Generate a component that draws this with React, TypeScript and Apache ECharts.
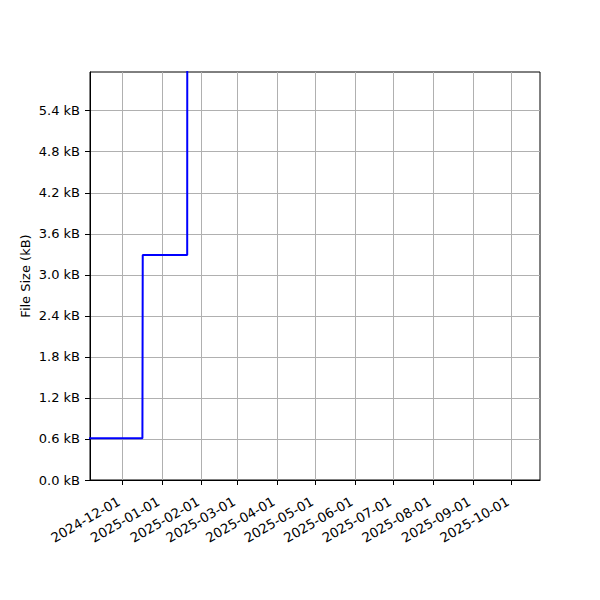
import React, { useEffect, useRef } from "react";
import * as echarts from "echarts";

const sizeDates = [
  "2024-11-01 00:00",
  "2024-12-16 18:00",
  "2024-12-17 00:00",
  "2025-01-20 18:00",
  "2025-01-21 00:00",
];
const sizeValuesKB = [0.61, 0.61, 3.29, 3.29, 20];

const monthTicks = [
  "2024-12-01",
  "2025-01-01",
  "2025-02-01",
  "2025-03-01",
  "2025-04-01",
  "2025-05-01",
  "2025-06-01",
  "2025-07-01",
  "2025-08-01",
  "2025-09-01",
  "2025-10-01",
];
const yTicks = [0, 0.6, 1.2, 1.8, 2.4, 3.0, 3.6, 4.2, 4.8, 5.4];

const xMin = "2024-11-05 19:00";
const xMax = "2025-10-23 10:00";
const yMax = 5.966;

function parseLocal(s: string): number {
  const [d, t] = s.split(" ");
  const [y, m, dd] = d.split("-").map(Number);
  const [hh, mm] = (t || "00:00").split(":").map(Number);
  return new Date(y, m - 1, dd, hh, mm).getTime();
}

function pad(n: number) {
  return n < 10 ? "0" + n : "" + n;
}

export default function App() {
  const ref = useRef<HTMLDivElement>(null);
  useEffect(() => {
    if (!ref.current) return;
    const chart = echarts.init(ref.current, undefined, { renderer: "svg" });
    const font = "DejaVu Sans";
    const tickVals = monthTicks.map((s) => parseLocal(s));
    chart.setOption({
      animation: false,
      backgroundColor: "#ffffff",
      textStyle: { fontFamily: font },
      grid: {
        left: 90,
        right: 60,
        top: 72,
        bottom: 120,
        show: true,
        borderColor: "#000000",
        borderWidth: 1,
        containLabel: false,
      },
      xAxis: {
        type: "value",
        min: parseLocal(xMin),
        max: parseLocal(xMax),
        axisLine: { show: true, onZero: false, lineStyle: { color: "#000", width: 1 } },
        axisTick: {
          show: true,
          length: 5,
          inside: false,
          customValues: tickVals,
          lineStyle: { color: "#000", width: 1 },
        },
        splitLine: { show: true, lineStyle: { color: "#b0b0b0", width: 1 } },
        axisLabel: {
          customValues: tickVals,
          rotate: 30,
          margin: 26,
          verticalAlign: "bottom",
          color: "#000",
          fontSize: 13.3,
          fontFamily: font,
          hideOverlap: false,
          formatter: (v: number) => {
            const d = new Date(v);
            return d.getFullYear() + "-" + pad(d.getMonth() + 1) + "-" + pad(d.getDate());
          },
        },
      },
      yAxis: {
        type: "value",
        min: 0,
        max: yMax,
        interval: 0.6,
        name: "File Size (kB)",
        nameLocation: "middle",
        nameGap: 58,
        nameMoveOverlap: false,
        nameTextStyle: { color: "#000", fontSize: 13, fontFamily: font },
        axisLine: { show: true, lineStyle: { color: "#000", width: 1 } },
        axisTick: {
          show: true,
          length: 5,
          customValues: yTicks,
          lineStyle: { color: "#000", width: 1 },
        },
        splitLine: { show: true, lineStyle: { color: "#b0b0b0", width: 1 } },
        axisLabel: {
          customValues: yTicks,
          margin: 10,
          color: "#000",
          fontSize: 13,
          fontFamily: font,
          formatter: (v: number) => v.toFixed(1) + " kB",
        },
      },
      series: [
        {
          type: "line",
          data: sizeDates.map((d, i) => [parseLocal(d), sizeValuesKB[i]]),
          showSymbol: false,
          symbol: "none",
          clip: true,
          lineStyle: { color: "#0000ff", width: 2 },
        },
      ],
    });
    return () => chart.dispose();
  }, []);
  return (
    <div
      ref={ref}
      style={{ position: "absolute", left: 0, top: 0, width: 600, height: 600 }}
    />
  );
}
